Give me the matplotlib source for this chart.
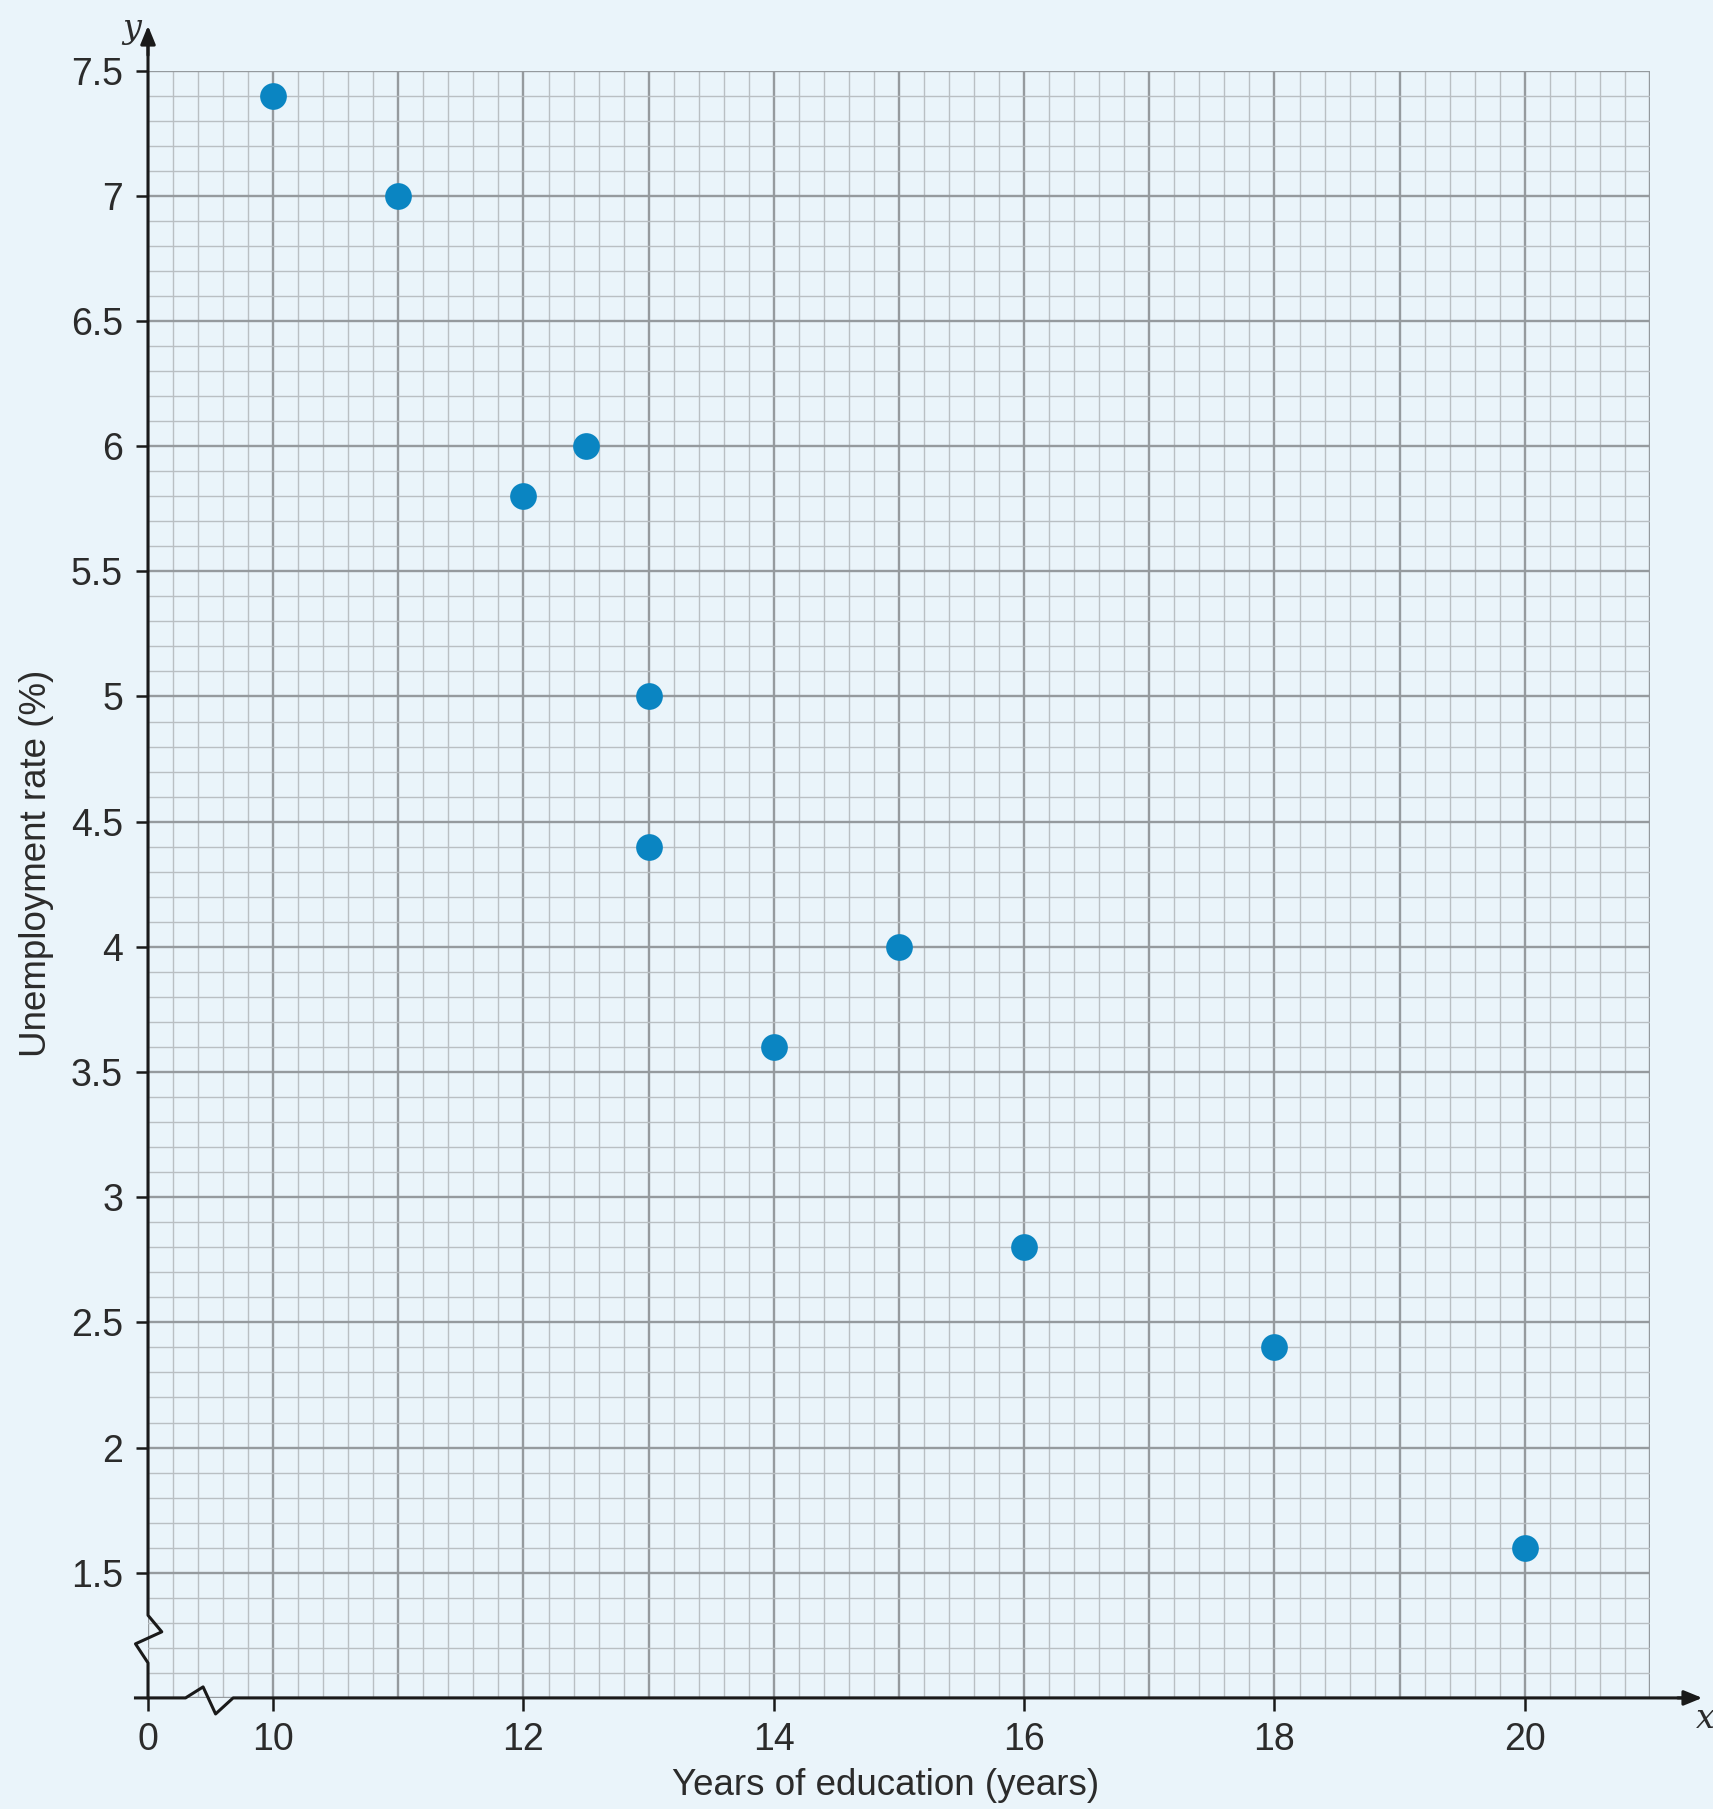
import matplotlib
matplotlib.use("Agg")
import matplotlib.pyplot as plt
import numpy as np

# Data
years = [10, 11, 12, 12.5, 13, 13, 14, 15, 16, 18, 20]
unemployment = [7.4, 7.0, 5.8, 6.0, 5.0, 4.4, 3.6, 4.0, 2.8, 2.4, 1.6]

x_ticks = [9, 10, 12, 14, 16, 18, 20]
x_tick_labels = ["0", "10", "12", "14", "16", "18", "20"]
y_ticks = [1.5, 2, 2.5, 3, 3.5, 4, 4.5, 5, 5.5, 6, 6.5, 7, 7.5]
y_tick_labels = ["1.5", "2", "2.5", "3", "3.5", "4", "4.5", "5", "5.5", "6", "6.5", "7", "7.5"]

BG = "#eaf4fa"
POINT = "#0a85c2"
TEXT = "#2b2b2b"
AXIS = "#1a1a1a"

plt.rcParams["font.family"] = ["Liberation Sans", "DejaVu Sans"]

fig = plt.figure(figsize=(17.13, 18.09), dpi=100, facecolor=BG)
ax = fig.add_axes([0.0864, 0.0614, 0.8768, 0.8996])
ax.set_facecolor(BG)

x0, x1 = 9, 21
y0, y1 = 1.0, 7.5
ax.set_xlim(x0, x1)
ax.set_ylim(y0, y1)

# graph paper grid: minor every 0.2 / 0.1, major every 1 / 0.5
for xv in np.arange(x0, x1 + 0.001, 0.2):
    major = abs(xv - round(xv)) < 1e-6
    ax.plot([xv, xv], [y0, y1], color="#959a9e" if major else "#b9bfc3",
            lw=1.7 if major else 1.0, zorder=1)
for yv in np.arange(y0, y1 + 0.001, 0.1):
    major = abs(yv * 2 - round(yv * 2)) < 1e-6
    ax.plot([x0, x1], [yv, yv], color="#959a9e" if major else "#b9bfc3",
            lw=1.7 if major else 1.0, zorder=1)

for s in ax.spines.values():
    s.set_visible(False)

# axes lines with break marks
ax.plot([9, 9, 9.11, 8.9, 9, 9], [7.6, 1.33, 1.264, 1.216, 1.14, 1.0],
        color=AXIS, lw=2.2, clip_on=False, zorder=4)
ax.plot([8.9, 9.30, 9.44, 9.54, 9.68, 21.3], [1.0, 1.0, 1.044, 0.936, 1.0, 1.0],
        color=AXIS, lw=2.2, clip_on=False, zorder=4)
ax.annotate("", xy=(9, 7.69), xytext=(9, 7.55),
            arrowprops=dict(arrowstyle="-|>,head_length=1.1,head_width=0.45",
                            color=AXIS, lw=2.2), annotation_clip=False)
ax.annotate("", xy=(21.44, 1.0), xytext=(21.2, 1.0),
            arrowprops=dict(arrowstyle="-|>,head_length=1.1,head_width=0.45",
                            color=AXIS, lw=2.2), annotation_clip=False)
ax.text(8.87, 7.665, "y", fontsize=24, style="italic", family="DejaVu Serif",
        color=TEXT, ha="center", va="center")
ax.text(21.37, 0.916, "x", fontsize=24, style="italic", family="DejaVu Serif",
        color=TEXT, ha="left", va="center")

ax.scatter(years, unemployment, s=370, color=POINT, zorder=5, linewidths=0)

ax.set_xticks(x_ticks)
ax.set_xticklabels(x_tick_labels)
ax.set_yticks(y_ticks)
ax.set_yticklabels(y_tick_labels)
ax.tick_params(axis="both", direction="out", length=9, width=1.8,
               color=AXIS, labelsize=27, labelcolor=TEXT)
ax.tick_params(axis="x", pad=8)
ax.tick_params(axis="y", pad=9)

ax.set_xlabel("Years of education (years)", fontsize=26.5, color=TEXT)
ax.set_ylabel("Unemployment rate (%)", fontsize=26.5, color=TEXT)
ax.xaxis.label.set_va("center")
ax.yaxis.label.set_va("center")
ax.xaxis.set_label_coords(0.491, -0.054)
ax.yaxis.set_label_coords(-0.0745, 0.513)

fig.savefig("out.png", dpi=100, facecolor=BG)
